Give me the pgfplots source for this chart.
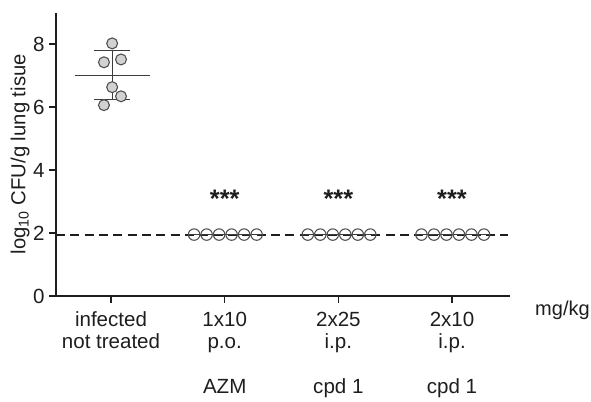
\documentclass[border=0pt]{standalone}
\usepackage{pgfplots}
\pgfplotsset{compat=1.18}
\usepackage{fontspec}
\setmainfont{Liberation Sans}
\definecolor{txt}{HTML}{1E1E1E}
\definecolor{edge}{HTML}{4D4D4D}
\definecolor{fillg}{HTML}{D2D2D2}
\definecolor{meanc}{HTML}{3C3C3C}
\begin{document}
\begin{tikzpicture}
\useasboundingbox (-42pt,-78.75pt) rectangle (401.25pt,222pt);
\begin{axis}[
  scale only axis,
  width=340.5pt, height=212.625pt,
  xmin=-0.484, xmax=3.51,
  ymin=0, ymax=9,
  axis x line*=bottom, axis y line*=left,
  axis line style={line width=1.5pt, color=txt},
  xtick={0,1,2,3},
  xticklabels={{infected\\not treated},{1x10\\p.o.\\[17pt]AZM},{2x25\\i.p.\\[17pt]cpd 1},{2x10\\i.p.\\[17pt]cpd 1}},
  ytick={0,2,4,6,8},
  tick align=outside,
  major tick length=5pt,
  tick style={line width=1.2pt, color=txt},
  /pgf/number format/assume math mode=true,
  every tick label/.append style={font=\fontsize{15.4}{16.5}\selectfont, color=txt},
  x tick label style={align=center, anchor=north, yshift=-3.5pt},
  ylabel={log\textsubscript{10} CFU/g lung tisue},
  ylabel style={at={(axis description cs:-0.079,0.5)}, anchor=center, font=\fontsize{15.2}{16}\selectfont, color=txt},
  clip=false,
]
% dashed detection limit
\addplot[line width=1.5pt, color=txt, dash pattern=on 6.75pt off 4pt] coordinates {(-0.484,1.95) (3.49,1.95)};
% infected: mean and SD
\addplot[line width=0.8pt, color=meanc] coordinates {(-0.317,7.0) (0.343,7.0)};
\addplot[line width=0.8pt, color=meanc] coordinates {(0.01,6.24) (0.01,7.78)};
\addplot[line width=0.8pt, color=meanc] coordinates {(-0.15,7.78) (0.167,7.78)};
\addplot[line width=0.8pt, color=meanc] coordinates {(-0.15,6.24) (0.167,6.24)};
\addplot[only marks, mark=*, mark size=4.1pt, mark options={fill=fillg, draw=edge, line width=0.8pt}]
  coordinates {(0.01,8.02) (0.088,7.51) (-0.062,7.42) (0.01,6.63) (0.088,6.34) (-0.062,6.06)};
% treated groups: mean lines
\addplot[line width=0.8pt, color=meanc] coordinates {(0.68,1.95) (1.33,1.95)};
\addplot[line width=0.8pt, color=meanc] coordinates {(1.68,1.95) (2.33,1.95)};
\addplot[line width=0.8pt, color=meanc] coordinates {(2.68,1.95) (3.33,1.95)};
% treated points
\addplot[only marks, mark=o, mark size=4.3pt, mark options={draw=edge, line width=0.8pt}]
  coordinates {(0.731,1.95) (0.841,1.95) (0.951,1.95) (1.061,1.95) (1.171,1.95) (1.281,1.95)
               (1.731,1.95) (1.841,1.95) (1.951,1.95) (2.061,1.95) (2.171,1.95) (2.281,1.95)
               (2.731,1.95) (2.841,1.95) (2.951,1.95) (3.061,1.95) (3.171,1.95) (3.281,1.95)};
\node[anchor=base, font=\fontsize{19}{19}\selectfont\bfseries, color=txt] at (axis cs:1,2.8) {***};
\node[anchor=base, font=\fontsize{19}{19}\selectfont\bfseries, color=txt] at (axis cs:2,2.8) {***};
\node[anchor=base, font=\fontsize{19}{19}\selectfont\bfseries, color=txt] at (axis cs:3,2.8) {***};
\node[anchor=base west, inner sep=0pt, font=\fontsize{15}{15}\selectfont, color=txt] at (axis description cs:1.055,-0.067) {mg/kg};
\end{axis}
\end{tikzpicture}
\end{document}
